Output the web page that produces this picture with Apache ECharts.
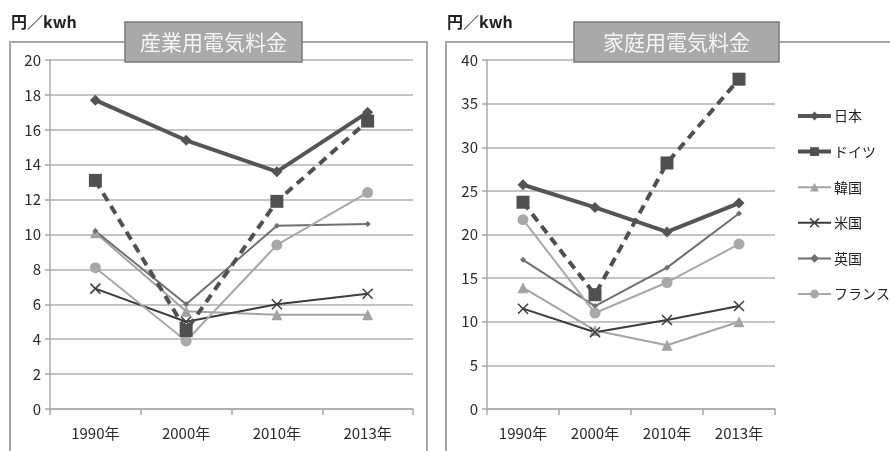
<!DOCTYPE html>
<html>
<head>
<meta charset="utf-8">
<script src="https://cdn.jsdelivr.net/npm/echarts@6/dist/echarts.min.js"></script>
<style>
  html, body { margin: 0; padding: 0; background: #fff; }
  #chart { width: 890px; height: 451px; }
</style>
</head>
<body>
<div id="chart"></div>
<script>
// 電気料金の国際比較（円／kWh）
const years = ['1990年', '2000年', '2010年', '2013年'];
const countries = ['日本', 'ドイツ', '韓国', '米国', '英国', 'フランス'];

// 産業用
const industJapan   = [17.7, 15.4, 13.6, 17.0];
const industGermany = [13.1, 4.5, 11.9, 16.5];
const industKorea   = [10.1, 5.6, 5.4, 5.4];
const industUS      = [6.9, 5.0, 6.0, 6.6];
const industUK      = [10.2, 6.0, 10.5, 10.6];
const industFrance  = [8.1, 3.9, 9.4, 12.4];

// 家庭用
const homeJapan   = [25.7, 23.1, 20.3, 23.6];
const homeGermany = [23.7, 13.1, 28.2, 37.8];
const homeKorea   = [13.9, 9.0, 7.3, 10.0];
const homeUS      = [11.5, 8.8, 10.2, 11.8];
const homeUK      = [17.1, 11.8, 16.2, 22.4];
const homeFrance  = [21.7, 11.0, 14.5, 18.9];

const industTicks = { min: 0, max: 20, interval: 2 };
const homeTicks   = { min: 0, max: 40, interval: 5 };

const FONT = '"Noto Sans CJK JP", "Noto Sans", sans-serif';
const xMark = 'path://M0,0L10,10M10,0L0,10';

const styles = {
  '日本':    { color: '#555555', width: 4, type: 'solid',  symbol: 'diamond',  size: 11 },
  'ドイツ':  { color: '#505050', width: 4, type: [9, 6],   symbol: 'rect',     size: 13 },
  '韓国':    { color: '#a3a3a3', width: 2, type: 'solid',  symbol: 'triangle', size: 11 },
  '米国':    { color: '#3c3c3c', width: 2, type: 'solid',  symbol: xMark,      size: 10 },
  '英国':    { color: '#707070', width: 2, type: 'solid',  symbol: 'diamond',  size: 6 },
  'フランス': { color: '#a8a8a8', width: 2, type: 'solid',  symbol: 'circle',   size: 11 }
};

const industData = [industJapan, industGermany, industKorea, industUS, industUK, industFrance];
const homeData   = [homeJapan, homeGermany, homeKorea, homeUS, homeUK, homeFrance];

function markStyle(s) {
  return s.symbol === xMark
    ? { color: 'rgba(0,0,0,0)', borderColor: s.color, borderWidth: 1.5 }
    : { color: s.color, borderWidth: 0 };
}

function makeSeries(name, data, idx) {
  const s = styles[name];
  return {
    name: name,
    type: 'line',
    xAxisIndex: idx,
    yAxisIndex: idx,
    data: data,
    symbol: s.symbol,
    symbolSize: s.size,
    z: name === 'ドイツ' || name === '日本' ? 4 : 3,
    lineStyle: { color: s.color, width: s.width, type: s.type },
    itemStyle: markStyle(s),
    emphasis: { disabled: true },
    animation: false
  };
}

const series = [];
countries.forEach((c, i) => series.push(makeSeries(c, industData[i], 0)));
countries.forEach((c, i) => series.push(makeSeries(c, homeData[i], 1)));

// 凡例：線は実線、太さは系列と同じ
const legendItems = countries.map(c => {
  const s = styles[c];
  return {
    name: c,
    lineStyle: { color: s.color, width: s.width, type: 'solid' },
    itemStyle: markStyle(s)
  };
});

function yAxisOf(idx, ticks) {
  return {
    type: 'value',
    gridIndex: idx,
    min: ticks.min,
    max: ticks.max,
    interval: ticks.interval,
    axisLine: { show: true, lineStyle: { color: '#a8a8a8', width: 1.5 } },
    axisTick: { show: true, length: 5, lineStyle: { color: '#a8a8a8', width: 1.5 } },
    axisLabel: { color: '#2a2a2a', fontSize: 15, fontFamily: FONT, margin: 9 },
    splitLine: { show: true, lineStyle: { color: '#b0b0b0', width: 1.5 } }
  };
}

function xAxisOf(idx) {
  return {
    type: 'category',
    gridIndex: idx,
    data: years,
    boundaryGap: true,
    axisLine: { show: true, lineStyle: { color: '#a8a8a8', width: 1.5 } },
    axisTick: { show: true, length: 6, lineStyle: { color: '#a8a8a8', width: 1.5 } },
    axisLabel: { color: '#2a2a2a', fontSize: 15, fontFamily: FONT, margin: 17 }
  };
}

const chart = echarts.init(document.getElementById('chart'), null, { renderer: 'canvas' });

chart.setOption({
  backgroundColor: '#ffffff',
  animation: false,
  title: [
    {
      text: '産業用電気料金',
      left: 125, top: 22,
      backgroundColor: '#a9a9a9',
      borderColor: '#7a7a7a',
      borderWidth: 1.5,
      padding: [8, 15, 8, 15],
      textStyle: { color: '#f4f4f4', fontSize: 21, fontWeight: 'normal', fontFamily: FONT, lineHeight: 24 },
      z: 10
    },
    {
      text: '家庭用電気料金',
      left: 574, top: 22,
      backgroundColor: '#a9a9a9',
      borderColor: '#7a7a7a',
      borderWidth: 1.5,
      padding: [8, 29, 8, 29],
      textStyle: { color: '#f4f4f4', fontSize: 21, fontWeight: 'normal', fontFamily: FONT, lineHeight: 24 },
      z: 10
    }
  ],
  graphic: [
    {
      type: 'rect', z: 0, silent: true,
      shape: { x: 10, y: 42, width: 417, height: 420 },
      style: { fill: 'none', stroke: '#a8a8a8', lineWidth: 2 }
    },
    {
      type: 'rect', z: 0, silent: true,
      shape: { x: 446, y: 42, width: 460, height: 420 },
      style: { fill: 'none', stroke: '#a8a8a8', lineWidth: 2 }
    },
    {
      type: 'text', left: 11, top: 14, z: 5,
      style: { text: '円／kwh', fill: '#222', font: 'bold 16px ' + FONT }
    },
    {
      type: 'text', left: 447, top: 14, z: 5,
      style: { text: '円／kwh', fill: '#222', font: 'bold 16px ' + FONT }
    }
  ],
  legend: {
    data: legendItems,
    orient: 'vertical',
    left: 796,
    top: 109,
    padding: 0,
    itemWidth: 33,
    itemHeight: 11,
    itemGap: 21.6,
    textStyle: { color: '#222', fontSize: 14, fontFamily: FONT, padding: [0, 0, 0, -2] },
    selectedMode: false
  },
  grid: [
    { left: 50, right: 477, top: 60, bottom: 42, containLabel: false },
    { left: 487, right: 115, top: 60, bottom: 42, containLabel: false }
  ],
  xAxis: [xAxisOf(0), xAxisOf(1)],
  yAxis: [yAxisOf(0, industTicks), yAxisOf(1, homeTicks)],
  series: series
});
</script>
</body>
</html>
